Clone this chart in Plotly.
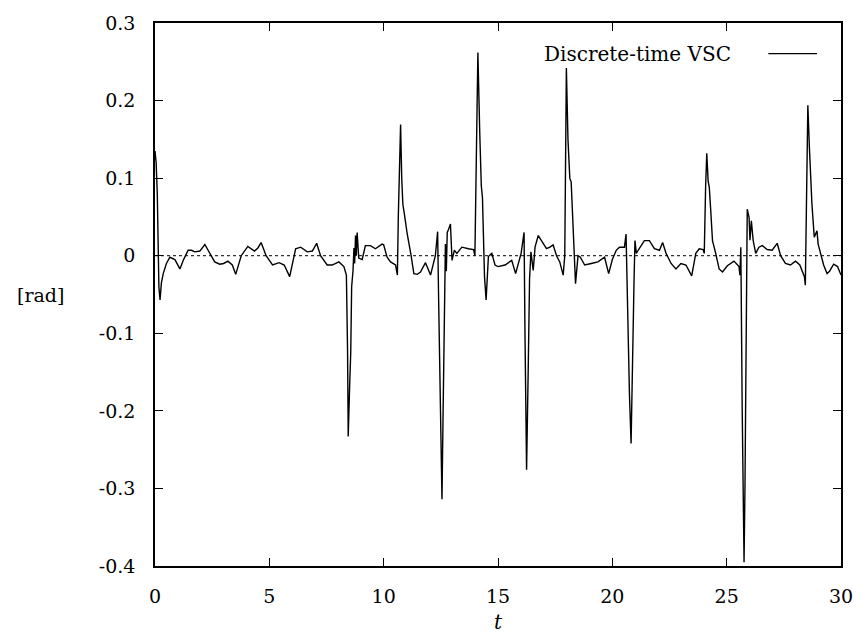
import plotly.graph_objects as go

# time samples [s]
t = [0.0, 0.05, 0.1, 0.13, 0.17, 0.22, 0.28, 0.36, 0.5, 0.65, 0.87, 1.09, 1.25, 1.45, 1.6, 1.74, 1.96,
     2.18, 2.36, 2.61, 2.83, 3.0, 3.19, 3.38, 3.53, 3.77, 4.06, 4.2, 4.35, 4.5, 4.64, 4.86,
     5.14, 5.43, 5.65, 5.89, 6.15, 6.37, 6.66, 6.88, 7.07, 7.24, 7.53, 7.75, 8.04, 8.26, 8.37,
     8.42, 8.45, 8.52, 8.56, 8.6, 8.66, 8.7, 8.73, 8.77, 8.8, 8.84, 8.91, 9.06, 9.2, 9.42, 9.64, 9.93,
     10.0, 10.15, 10.3, 10.52, 10.6, 10.64, 10.74, 10.79, 10.84, 10.9, 11.03, 11.2, 11.32, 11.47,
     11.61, 11.83, 12.05, 12.26, 12.36, 12.4, 12.47, 12.55, 12.6, 12.65, 12.7, 12.74, 12.78, 12.84,
     12.92, 12.99, 13.09, 13.2, 13.42, 13.71, 13.93, 13.99, 14.05, 14.12, 14.2, 14.27, 14.32, 14.41,
     14.48, 14.58, 14.73, 14.87, 15.0, 15.31, 15.6, 15.77, 16.01, 16.14, 16.18, 16.25, 16.32, 16.38,
     16.44, 16.54, 16.62, 16.76, 16.9, 17.12, 17.27, 17.41, 17.56, 17.7, 17.85, 17.92, 17.99, 18.06,
     18.14, 18.2, 18.39, 18.5, 18.6, 18.79, 19.08, 19.37, 19.66, 19.84, 20.0, 20.17, 20.31, 20.53,
     20.6, 20.65, 20.75, 20.82, 20.88, 20.95, 20.99, 21.05, 21.15, 21.4, 21.62, 21.84, 22.06, 22.2,
     22.35, 22.57, 22.78, 23.0, 23.22, 23.47, 23.65, 23.8, 23.97, 24.02, 24.08, 24.13, 24.19, 24.24,
     24.3, 24.38, 24.52, 24.67, 24.82, 25.03, 25.32, 25.54, 25.58, 25.62, 25.68, 25.76, 25.8, 25.85,
     25.9, 25.98, 26.02, 26.08, 26.16, 26.27, 26.41, 26.56, 26.77, 26.99, 27.21, 27.36, 27.57, 27.79,
     28.01, 28.2, 28.4, 28.44, 28.5, 28.55, 28.62, 28.73, 28.83, 28.95, 29.0, 29.1, 29.24, 29.39,
     29.5, 29.68, 29.85, 30.0]

# angle error [rad]
v = [0.135, 0.12, 0.08, 0.02, -0.04, -0.057, -0.035, -0.023, -0.01, -0.002, -0.005, -0.017, -0.005,
     0.007, 0.007, 0.005, 0.006, 0.0145, 0.005, -0.008, -0.011, -0.01, -0.007, -0.012, -0.024, 0.0,
     0.012, 0.009, 0.006, 0.01, 0.017, 0.0, -0.012, -0.009, -0.012, -0.027, 0.009, 0.011, 0.005,
     0.006, 0.016, 0.0, -0.012, -0.012, -0.008, -0.014, -0.025, -0.12, -0.233, -0.16, -0.125, -0.04,
     -0.019, 0.01, -0.01, 0.026, 0.0, 0.03, -0.003, -0.005, 0.013, 0.013, 0.009, 0.015, 0.014, -0.002,
     -0.008, -0.012, -0.025, 0.05, 0.169, 0.1, 0.066, 0.055, 0.028, 0.0, -0.023, -0.024, -0.021,
     -0.009, -0.025, 0.0, 0.031, -0.05, -0.2, -0.314, -0.2, -0.05, 0.015, -0.02, 0.03, 0.034, 0.041,
     -0.006, 0.007, 0.003, 0.011, 0.009, 0.008, 0.0, 0.15, 0.262, 0.16, 0.09, 0.075, -0.027, -0.057,
     -0.001, 0.003, -0.012, -0.014, -0.012, -0.006, -0.023, 0.003, 0.03, -0.1, -0.276, -0.15, -0.03,
     0.005, -0.019, 0.011, 0.026, 0.0195, 0.009, 0.011, 0.014, 0.0, -0.008, -0.025, 0.0, 0.242, 0.15,
     0.1, 0.095, -0.036, 0.0, -0.002, -0.012, -0.01, -0.008, -0.002, -0.023, -0.005, 0.007, 0.011,
     0.011, 0.028, -0.05, -0.18, -0.242, -0.123, -0.03, 0.0195, 0.003, 0.008, 0.0195, 0.0195, 0.009,
     0.007, 0.017, 0.003, -0.01, -0.017, -0.01, -0.012, -0.026, 0.003, 0.009, 0.008, 0.003, 0.09,
     0.132, 0.096, 0.088, 0.06, 0.0195, 0.003, -0.017, -0.021, -0.013, -0.007, -0.014, -0.025, 0.011,
     -0.2, -0.395, -0.3, -0.1, 0.06, 0.049, 0.02, 0.045, 0.0195, 0.003, 0.011, 0.013, 0.008, 0.007,
     0.016, 0.0, -0.01, -0.012, -0.007, -0.012, -0.027, -0.038, 0.1, 0.194, 0.138, 0.066, 0.024,
     0.032, 0.015, 0.003, -0.012, -0.023, -0.02, -0.011, -0.014, -0.025]

x_ticks = [0, 5, 10, 15, 20, 25, 30]
y_ticks = [-0.4, -0.3, -0.2, -0.1, 0, 0.1, 0.2, 0.3]
y_labels = ["-0.4", "-0.3", "-0.2", "-0.1", "0", "0.1", "0.2", "0.3"]
series_name = "Discrete-time VSC"

FONT = "DejaVu Serif"
W, H = 865, 637
L, R, T, B = 155, 21, 16, 71
pw, ph = W - L - R, H - T - B

fig = go.Figure()
fig.add_trace(go.Scatter(x=t, y=v, mode="lines", name=series_name, showlegend=False,
                         line=dict(color="black", width=1.4)))

axis_common = dict(showline=True, linecolor="black", linewidth=1.5, mirror="ticks",
                   ticks="inside", ticklen=8, tickwidth=1.2, tickcolor="black",
                   showgrid=False, zeroline=False,
                   tickfont=dict(family=FONT, size=19, color="black"))

fig.update_xaxes(range=[0, 30], tickvals=x_ticks, ticktext=[str(x) for x in x_ticks],
                 ticklabelstandoff=12, **axis_common)
fig.update_yaxes(range=[-0.4, 0.3], tickvals=y_ticks, ticktext=y_labels,
                 ticklabelstandoff=14, **axis_common)

# dotted zero axis
fig.add_shape(type="line", xref="x", yref="y", x0=0, x1=30, y0=0, y1=0,
              line=dict(color="black", width=1, dash="dot"))

# gnuplot-style key: text then line sample on the right
key_y = 1 - (47 - T) / ph
fig.add_annotation(xref="paper", yref="paper", x=(736 - L) / pw, y=key_y,
                   text=series_name, showarrow=False, xanchor="right", yanchor="middle",
                   font=dict(family=FONT, size=20, color="black"))
fig.add_shape(type="line", xref="paper", yref="paper", x0=(771 - L) / pw, x1=(820 - L) / pw,
              y0=key_y, y1=key_y, line=dict(color="black", width=1.3))

# axis labels
fig.add_annotation(xref="paper", yref="paper", x=(40 - L) / pw, y=0.5, text="[rad]",
                   showarrow=False, xanchor="center", yanchor="middle",
                   font=dict(family=FONT, size=19, color="black"))
fig.add_annotation(xref="paper", yref="paper", x=0.5, y=-(623 - (H - B)) / ph, text="<i>t</i>",
                   showarrow=False, xanchor="center", yanchor="middle",
                   font=dict(family=FONT, size=20, color="black"))

fig.update_layout(width=W, height=H, margin=dict(l=L, r=R, t=T, b=B),
                  plot_bgcolor="white", paper_bgcolor="white")

fig.write_html("out.html", config={"displayModeBar": False},
               post_script="document.body.style.margin='0px';")
